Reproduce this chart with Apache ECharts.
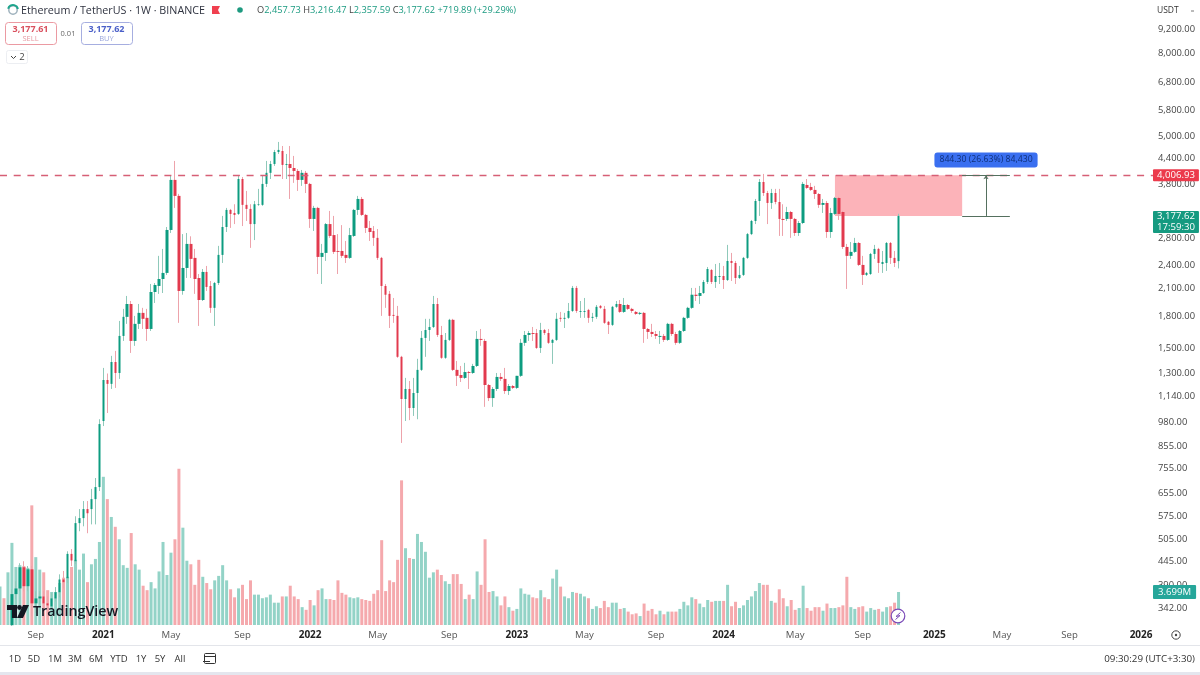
<!DOCTYPE html>
<html><head><meta charset="utf-8">
<style>html,body{margin:0;padding:0;background:#fff}#c{width:1200px;height:675px;filter:blur(0.35px)}</style>
<script src="https://cdn.jsdelivr.net/npm/echarts@6/dist/echarts.min.js"></script>
</head><body><div id="c"></div>
<script>
var opens=[230,240,238,310,370,382,431,387,426,351,361,365,351,345,361,374,402,405,465,446,554,570,600,600,635,680,990,1250,1223,1385,1301,1606,1790,1926,1561,1720,1831,1780,1671,2062,2134,2220,2298,2934,3900,3561,2074,2364,2710,2503,2233,1970,2311,2134,1884,2170,2546,2984,3288,3232,3214,3920,3384,3307,3034,3384,3384,3812,4060,4270,4571,4598,4247,4270,4173,4104,3900,4060,3812,3124,3326,2517,2575,3034,2850,2604,2604,2546,2503,2836,3288,3500,3196,2968,2917,2805,2503,2134,2040,1810,1800,1426,1122,1188,1066,1161,1324,1588,1661,1690,1926,1615,1418,1570,1760,1324,1286,1265,1308,1301,1354,1579,1561,1215,1128,1188,1272,1258,1174,1208,1195,1280,1544,1615,1633,1633,1500,1661,1633,1544,1570,1780,1770,1780,1851,2110,1841,1841,1862,1780,1790,1905,1873,1740,1710,1895,1926,1841,1915,1873,1841,1820,1831,1671,1643,1624,1597,1606,1570,1720,1624,1544,1652,1780,1884,2030,2016,2050,2183,2337,2183,2245,2258,2207,2460,2432,2233,2272,2503,2866,3088,3460,3855,3620,3421,3620,3440,3124,3124,3250,3124,2884,3052,3790,3747,3684,3600,3384,3421,2900,3214,3520,3250,2664,2532,2590,2725,2405,2272,2284,2560,2634,2418,2432,2725,2503,2457.73];
var highs=[250,245,305,380,398,441,446,434,434,376,376,376,365,372,385,414,422,472,478,576,600,628,628,673,716,1000,1339,1297,1434,1475,1749,1873,2016,1959,1800,1926,1884,1873,2158,2170,2532,2634,2984,3990,4344,3602,2866,2884,2830,2634,2284,2350,2391,2195,2183,2680,3178,3326,3307,3396,3990,3965,3663,3396,3460,3706,3990,4344,4344,4625,4840,4730,4520,4730,4470,4150,4127,4104,3835,3365,3346,2710,3052,3269,3178,2866,3016,2756,2968,3307,3561,3540,3214,3088,3000,2950,2517,2158,2074,1993,1905,1434,1265,1243,1265,1410,1652,1770,1770,2016,1993,1700,1633,1770,1770,1393,1354,1378,1316,1370,1652,1671,1579,1222,1201,1301,1301,1339,1222,1215,1280,1579,1652,1652,1690,1671,1730,1671,1671,1579,1831,1841,1831,1937,2134,2134,1959,1993,1873,1831,1915,1915,1905,1749,1905,1959,1970,1993,1926,1884,1851,1841,1841,1680,1720,1652,1652,1624,1730,1730,1643,1661,1790,1895,2110,2110,2134,2207,2377,2350,2418,2432,2391,2695,2575,2460,2391,2517,2884,3106,3500,3920,4035,3663,3706,3706,3706,3396,3346,3269,3142,3088,3855,3920,3835,3770,3620,3500,3460,3326,3540,3540,3269,2710,2740,2805,2740,2532,2311,2575,2695,2650,2604,2740,2740,2604,3216.47];
var lows=[225,228,235,309,359,376,376,376,326,332,349,340,336,340,355,363,382,394,434,439,529,544,523,550,550,665,962,1036,1188,1195,1258,1561,1720,1458,1518,1671,1671,1561,1652,1937,2040,2050,2272,2884,3326,1730,2030,2233,2233,2040,1700,1959,2074,1831,1700,2146,2432,2900,2968,3034,3196,3000,3088,2650,2770,3365,3365,3747,3920,4224,4520,3920,3920,3500,3835,3663,3770,3620,2968,2917,2284,2158,2460,2805,2560,2284,2503,2432,2489,2820,3196,3178,2884,2756,2680,2475,1800,1884,1680,1730,1418,874,990,995,1019,1000,1316,1426,1561,1680,1597,1410,1410,1561,1316,1208,1236,1258,1188,1294,1346,1518,1073,1109,1073,1174,1243,1155,1148,1188,1188,1272,1518,1561,1561,1492,1458,1615,1535,1370,1561,1740,1680,1770,1841,1831,1780,1780,1730,1740,1770,1873,1720,1624,1700,1884,1831,1831,1862,1831,1810,1810,1544,1579,1597,1579,1535,1552,1561,1606,1527,1535,1643,1770,1873,1959,1926,2040,2158,2158,2110,2158,2098,2195,2195,2158,2220,2258,2489,2850,3034,3178,3561,3034,3307,3396,2836,2836,3088,2805,2836,2836,3034,3706,3663,3500,3326,3232,2805,2805,3196,3106,2634,2098,2489,2575,2391,2146,2258,2272,2489,2298,2298,2324,2418,2377,2357.59];
var closes=[240,238,305,370,382,431,387,426,351,361,365,351,347,361,374,402,396,465,448,554,570,600,586,635,680,973,1250,1223,1385,1301,1606,1790,1926,1561,1720,1831,1770,1671,2062,2146,2220,2298,2934,3900,3561,2074,2364,2710,2489,2220,1970,2311,2122,1884,2170,2546,2984,3288,3214,3196,3920,3384,3307,3034,3396,3396,3812,4060,4270,4571,4625,4247,4270,4173,4104,3900,4060,3812,3124,3326,2517,2575,3034,2836,2590,2590,2532,2503,2850,3288,3500,3196,2968,2900,2805,2503,2134,2030,1800,1800,1426,1122,1188,1066,1161,1324,1588,1661,1690,1926,1615,1418,1570,1760,1324,1280,1265,1308,1301,1354,1579,1570,1215,1128,1188,1272,1258,1174,1208,1195,1280,1544,1615,1633,1624,1500,1661,1633,1544,1570,1770,1770,1780,1851,2110,1851,1851,1851,1780,1790,1895,1884,1730,1710,1895,1926,1841,1915,1873,1851,1820,1831,1671,1643,1624,1606,1606,1570,1720,1624,1544,1652,1780,1884,2030,2016,2050,2183,2350,2183,2258,2258,2207,2460,2432,2233,2272,2503,2866,3088,3460,3855,3620,3421,3620,3440,3124,3106,3250,3124,2884,3052,3812,3726,3684,3600,3384,3421,2900,3232,3520,3214,2664,2532,2590,2725,2405,2272,2298,2560,2634,2432,2446,2725,2503,2432,3177.62];
var volumes=[4.3,3.0,5.9,9.2,6.5,6.7,6.6,6.4,13.4,7.6,6.2,5.9,3.9,3.7,3.7,4.7,5.3,5.4,6.5,7.3,6.2,8.0,4.8,6.8,7.4,9.3,16.6,14.1,12.1,11.0,9.6,6.7,6.4,10.3,6.8,6.2,4.4,3.9,4.8,4.1,6.0,9.3,5.6,8.1,9.6,17.5,10.9,7.2,6.8,4.5,7.3,5.4,4.7,4.0,5.0,5.5,6.7,5.0,4.0,3.1,4.1,4.5,2.9,5.0,3.4,3.4,3.0,3.1,3.4,2.5,2.5,3.2,3.2,4.4,3.2,2.9,2.0,1.7,2.8,2.2,3.9,4.1,2.9,2.9,2.8,5.0,3.6,3.4,3.1,3.0,3.1,2.9,2.8,2.7,3.5,3.9,9.5,3.8,5.0,4.8,7.3,16.2,8.6,7.5,7.4,10.2,9.3,8.2,5.3,5.9,6.2,5.6,4.9,4.6,5.7,5.7,4.6,2.9,3.4,2.9,6.0,4.5,9.6,3.7,3.8,3.2,2.2,3.2,2.0,1.6,1.8,4.1,3.5,3.4,3.1,3.0,3.9,3.1,2.9,5.2,6.2,4.3,3.2,3.0,3.7,3.6,3.5,3.2,3.0,1.8,2.1,1.9,2.7,2.0,2.5,2.5,1.8,1.9,1.5,1.2,1.3,1.0,2.4,1.6,1.8,1.2,1.6,1.2,1.5,1.5,1.5,1.8,2.6,2.2,3.1,2.9,2.4,2.0,2.8,2.6,2.7,2.7,2.7,4.5,2.1,2.6,1.9,2.2,2.8,3.2,3.8,4.7,4.5,4.5,2.7,2.5,4.0,3.0,2.1,2.8,1.7,1.9,4.4,1.9,1.6,2.0,2.0,1.6,2.4,1.9,1.9,2.0,2.2,5.4,2.0,1.8,2.0,2.1,1.5,1.9,1.7,1.8,1.5,2.0,2.1,2.5,3.699];
var priceTicks=[9200,8000,6800,5800,5000,4400,3800,2800,2400,2100,1800,1500,1300,1140,980,855,755,655,575,505,445,390,342];
var timeLabels={'2020-09-07':'Sep','2021-01-04':'2021','2021-05-03':'May','2021-09-06':'Sep','2022-01-03':'2022','2022-05-02':'May','2022-09-05':'Sep','2023-01-02':'2023','2023-05-01':'May','2023-09-04':'Sep','2024-01-01':'2024','2024-05-06':'May','2024-09-02':'Sep','2025-01-06':'2025','2025-05-05':'May','2025-09-01':'Sep','2026-01-05':'2026'};
var resistance=4006.93, lastPrice=3177.62, lastVolume=3.699;
var priceMin=308.6, priceMax=10787;
var zoneStart='2024-07-15', zoneEnd='2025-02-24', rulerMid='2025-04-07', rulerEnd='2025-05-19';
var rangeButtons=['1D','5D','1M','3M','6M','YTD','1Y','5Y','All'];
var rangeX=[15,34,55,75,96,119,141,160,180];

var UP='#0d9c80',DOWN='#e23a4e',WICKUP='#8fc9ba',WICKDOWN='#eda3ab',VOLUP='#93d3c7',VOLDOWN='#f5a9ad';
var categories=[];
(function(){for(var i=0;i<291;i++){categories.push(new Date(Date.UTC(2020,6,6+i*7)).toISOString().slice(0,10));}})();
var FONT='"Open Sans",sans-serif';
var candleCount=opens.length;
var wickData=[],bodyData=[],volumeData=[];
for(var i=0;i<candleCount;i++){
  var inView=highs[i]>priceMin;
  wickData.push(inView?[opens[i],closes[i],lows[i],highs[i]]:['-','-','-','-']);
  bodyData.push(inView?[opens[i],closes[i],Math.min(opens[i],closes[i]),Math.max(opens[i],closes[i])]:['-','-','-','-']);
  volumeData.push({value:volumes[i],itemStyle:{color:closes[i]>opens[i]?VOLUP:VOLDOWN}});
}
function txt(text,x,y,fill,font,align,extra){
  var s={text:text,x:x,y:y,fill:fill,font:font||('10px '+FONT),textAlign:align||'left',textVerticalAlign:'middle',verticalAlign:'middle'};
  if(extra){for(var k in extra){s[k]=extra[k];}}
  return {type:'text',silent:true,z:50,style:s};
}
var g=[];
g.push({type:'circle',z:50,silent:true,shape:{cx:13,cy:10,r:4.2},style:{fill:'#fff',stroke:'#9fb2bd',lineWidth:1.5}});
g.push({type:'arc',z:50,silent:true,shape:{cx:13,cy:10,r:5,startAngle:-2.9,endAngle:-0.2},style:{fill:null,stroke:'#1ea58c',lineWidth:2}});
g.push(txt('Ethereum / TetherUS · 1W · BINANCE',21,10.5,'#2f3340','10.75px '+FONT));
g.push({type:'polygon',z:50,silent:true,shape:{points:[[212,6],[220,6],[218,10],[220,14],[212,14]]},style:{fill:'#f0404f'}});
g.push({type:'circle',z:50,silent:true,shape:{cx:240,cy:10,r:2.8},style:{fill:'#1e9a80'}});
g.push(txt('{l|O}{v|2,457.73} {l|H}{v|3,216.47} {l|L}{v|2,357.59} {l|C}{v|3,177.62} {v|+719.89 (+29.29%)}',257,10.5,'#555','9.25px '+FONT,'left',{rich:{l:{fill:'#444',color:'#444',font:'9.25px '+FONT},v:{fill:'#1a9a80',color:'#1a9a80',font:'9.25px '+FONT}}}));
g.push({type:'rect',z:49,silent:true,shape:{x:5.5,y:22.5,width:51,height:22,r:3},style:{fill:'#fff',stroke:'#eb9aa2',lineWidth:1}});
g.push(txt('3,177.61',30.5,29,'#d9505e','bold 9px '+FONT,'center'));
g.push(txt('SELL',30.5,39,'#e69aa2','7.5px '+FONT,'center'));
g.push(txt('0.01',68,33.5,'#666','7.5px '+FONT,'center'));
g.push({type:'rect',z:49,silent:true,shape:{x:81.5,y:22.5,width:51,height:22,r:3},style:{fill:'#fff',stroke:'#a6aee0',lineWidth:1}});
g.push(txt('3,177.62',106.5,29,'#4a5fc8','bold 9px '+FONT,'center'));
g.push(txt('BUY',106.5,39,'#9aa6dc','7.5px '+FONT,'center'));
g.push({type:'rect',z:49,silent:true,shape:{x:6.5,y:50.5,width:21,height:13,r:2},style:{fill:'#fff',stroke:'#eceef2',lineWidth:1}});
g.push({type:'polyline',z:50,silent:true,shape:{points:[[11,56],[13.5,58.5],[16,56]]},style:{fill:null,stroke:'#444',lineWidth:1}});
g.push(txt('2',22,57,'#444','9.5px '+FONT,'center'));
g.push(txt('USDT',1157,10.5,'#333','8.5px '+FONT));
g.push({type:'line',z:50,silent:true,shape:{x1:1191,y1:11,x2:1194,y2:11},style:{stroke:'#777',lineWidth:1}});
g.push({type:'polygon',z:50,silent:true,shape:{points:[[7,605],[17,605],[17,618],[12,618],[12,610],[7,610]]},style:{fill:'#131722'}});
g.push({type:'circle',z:50,silent:true,shape:{cx:19.5,cy:607.5,r:2.4},style:{fill:'#131722'}});
g.push({type:'polygon',z:50,silent:true,shape:{points:[[23,605],[29,605],[23,618],[17,618]]},style:{fill:'#131722'}});
g.push(txt('TradingView',33,611.5,'#131722','600 14.3px '+FONT,'left'));
g.push({type:'circle',z:50,silent:true,shape:{cx:898,cy:616,r:6.8},style:{fill:'#fff',stroke:'#7b4bb8',lineWidth:1.2}});
g.push({type:'polyline',z:51,silent:true,shape:{points:[[900.5,612.5],[896,616.5],[900,615.5],[895.5,619.5]]},style:{fill:null,stroke:'#7b4bb8',lineWidth:1}});
g.push({type:'circle',z:50,silent:true,shape:{cx:1176,cy:635,r:4.2},style:{fill:'#fff',stroke:'#444',lineWidth:1}});
g.push({type:'circle',z:50,silent:true,shape:{cx:1176,cy:635,r:1.2},style:{fill:'#444'}});
g.push({type:'line',z:50,silent:true,shape:{x1:0,y1:645.5,x2:1200,y2:645.5},style:{stroke:'#e3e5ea',lineWidth:1}});
rangeButtons.forEach(function(b,idx){g.push(txt(b,rangeX[idx],659.5,'#333','9.5px '+FONT,'center'));});
g.push({type:'rect',z:50,silent:true,shape:{x:204.5,y:653.5,width:11,height:10,r:1},style:{fill:'#fff',stroke:'#333',lineWidth:1}});
g.push({type:'line',z:50,silent:true,shape:{x1:205,y1:656.5,x2:215,y2:656.5},style:{stroke:'#333',lineWidth:1}});
g.push({type:'line',z:50,silent:true,shape:{x1:203,y1:661.5,x2:210,y2:661.5},style:{stroke:'#333',lineWidth:1}});
g.push(txt('09:30:29 (UTC+3:30)',1195,659.5,'#333','9.8px '+FONT,'right'));
g.push({type:'rect',z:50,silent:true,shape:{x:0,y:672,width:1200,height:3},style:{fill:'#e4e6ee'}});

var hiddenLine={color:'transparent',width:0};
var rulerLine={color:'#55705f',type:'solid',width:1};
var chart=echarts.init(document.getElementById('c'),null,{renderer:'canvas'});
chart.setOption({
  animation:false,backgroundColor:'#fff',
  grid:[{left:0,right:47,top:1,bottom:49},{left:0,right:47,top:425,bottom:50}],
  xAxis:[
    {type:'category',gridIndex:0,data:categories,boundaryGap:false,axisLine:{show:false},axisTick:{show:false},splitLine:{show:false},
     axisLabel:{interval:function(i,v){return !!timeLabels[v];},margin:4,
       formatter:function(v){var t=timeLabels[v];if(!t)return '';return /^\d+$/.test(t)?'{y|'+t+'}':'{m|'+t+'}';},
       rich:{y:{fontFamily:'Open Sans',fontSize:10,fontWeight:'bold',color:'#222'},m:{fontFamily:'Open Sans',fontSize:9.6,color:'#555'}}}},
    {type:'category',gridIndex:1,data:categories,boundaryGap:false,show:false}
  ],
  yAxis:[
    {type:'log',gridIndex:0,position:'right',min:priceMin,max:priceMax,logBase:10,axisLine:{show:false},axisTick:{show:false},splitLine:{show:false},
     axisLabel:{customValues:priceTicks,margin:5,color:'#444',fontFamily:'Open Sans',fontSize:9.4,
       formatter:function(v){return Number(v).toLocaleString('en-US',{minimumFractionDigits:2,maximumFractionDigits:2});}}},
    {type:'value',gridIndex:1,min:0,max:22.4,show:false}
  ],
  series:[
    {name:'Volume',type:'bar',xAxisIndex:1,yAxisIndex:1,z:0,barWidth:3,data:volumeData,silent:true,
     markLine:{silent:true,symbol:'none',z:6,data:[{yAxis:lastVolume,lineStyle:hiddenLine,
       label:{show:true,position:'end',distance:0,formatter:'3.699M',color:'#fff',backgroundColor:'#26a69a',padding:[2,5,2,5],borderRadius:1,fontFamily:'Open Sans',fontSize:9.6}}]}},
    {name:'Wicks',type:'candlestick',z:2,barWidth:1,data:wickData,silent:true,
     itemStyle:{color:'transparent',color0:'transparent',borderColor:WICKUP,borderColor0:WICKDOWN,borderWidth:1},
     markArea:{silent:true,itemStyle:{color:'#fcb3b9'},data:[[{coord:[zoneStart,resistance]},{coord:[zoneEnd,lastPrice]}]]},
     markLine:{silent:true,symbol:'none',z:6,data:[
       {yAxis:resistance,lineStyle:{color:'#d65f76',type:[7,6.7],width:1.4},
        label:{show:true,position:'end',distance:0,formatter:'4,006.93',color:'#fff',backgroundColor:'#ec3a4c',padding:[1,4,1,4],borderRadius:1,fontFamily:'Open Sans',fontSize:9.6}},
       {yAxis:lastPrice,lineStyle:hiddenLine,
        label:{show:true,position:'end',distance:0,offset:[0,6],formatter:'3,177.62\n17:59:30',lineHeight:10.5,color:'#fff',backgroundColor:'#159a80',padding:[1,4,0,4],borderRadius:1,fontFamily:'Open Sans',fontSize:9.6}},
       [{coord:[zoneEnd,resistance],lineStyle:rulerLine},{coord:[rulerEnd,resistance]}],
       [{coord:[zoneEnd,lastPrice],lineStyle:rulerLine},{coord:[rulerEnd,lastPrice]}],
       [{coord:[rulerMid,lastPrice],lineStyle:rulerLine,symbol:'none'},{coord:[rulerMid,resistance],symbol:'arrow',symbolSize:4}]
     ]},
     markPoint:{silent:true,symbol:'circle',symbolSize:0,data:[{coord:[rulerMid,4370],
       label:{show:true,position:'inside',formatter:'844.30 (26.63%) 84,430',color:'#10307a',backgroundColor:'#3a6ff0',padding:[3,5,3,5],borderRadius:3,fontFamily:'Open Sans',fontSize:8.7}}]}},
    {name:'Candles',type:'candlestick',z:3,barWidth:3,data:bodyData,silent:true,
     itemStyle:{color:UP,color0:DOWN,borderColor:UP,borderColor0:DOWN,borderWidth:0}}
  ],
  graphic:{elements:g}
});
</script></body></html>
